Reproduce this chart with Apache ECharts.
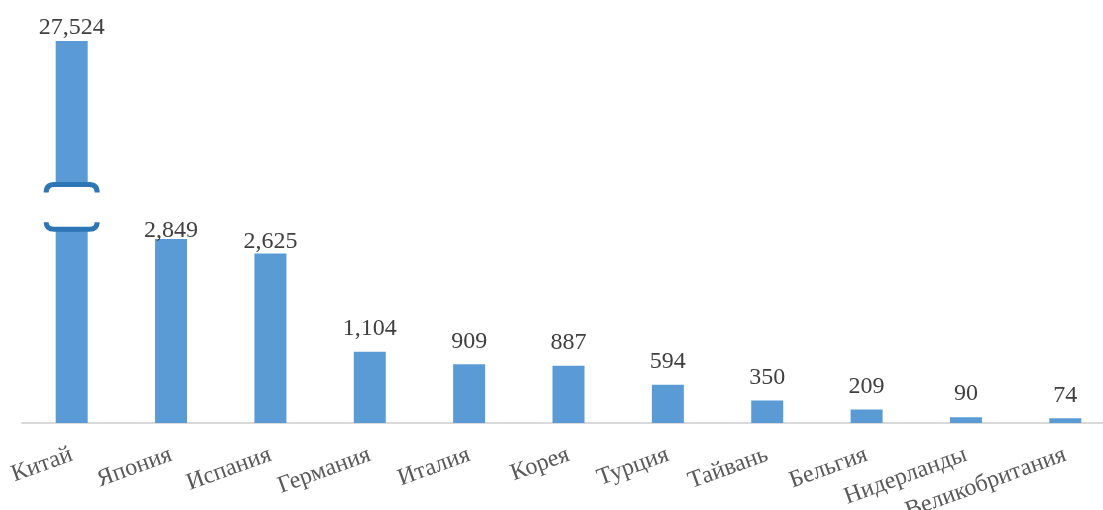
<!DOCTYPE html>
<html>
<head>
<meta charset="utf-8">
<script src="https://cdn.jsdelivr.net/npm/echarts@6/dist/echarts.min.js"></script>
<style>
html,body{margin:0;padding:0;background:#fff;}
#chart{width:1103px;height:510px;}
</style>
</head>
<body>
<div id="chart"></div>
<script>
const categories = ['Китай','Япония','Испания','Германия','Италия','Корея','Турция','Тайвань','Бельгия','Нидерланды','Великобритания'];
const values = [27524, 2849, 2625, 1104, 909, 887, 594, 350, 209, 90, 74];
// axis break range (data units)
const breakStart = 3000;
const breakEnd = 25300;

const labelShift = {0: 10, 1: 15, 2: 11};
const barData = values.map((v, i) => ({
  value: v,
  label: labelShift[i] ? { offset: [0, labelShift[i]] } : undefined
}));

const chart = echarts.init(document.getElementById('chart'));
chart.setOption({
  animation: false,
  backgroundColor: '#ffffff',
  grid: { left: 22, right: -12, top: 41, bottom: 87, containLabel: false, outerBoundsMode: 'none' },
  xAxis: {
    type: 'category',
    data: categories,
    axisLine: { lineStyle: { color: '#D9D9D9', width: 2 } },
    axisTick: { show: false },
    axisLabel: {
      rotate: 20,
      interval: 0,
      margin: 31,
      fontFamily: 'Liberation Serif',
      fontSize: 24,
      color: '#595959'
    }
  },
  yAxis: {
    type: 'value',
    min: 0,
    max: 27524,
    breaks: [{ start: breakStart, end: breakEnd, gap: 692 }],
    breakArea: { show: false },
    axisLine: { show: false },
    axisTick: { show: false },
    axisLabel: { show: false },
    splitLine: { show: false }
  },
  series: [
    {
      type: 'bar',
      data: barData,
      barWidth: 32,
      itemStyle: { color: '#5B9BD5' },
      label: {
        show: true,
        position: 'top',
        distance: 11,
        fontFamily: 'Liberation Serif',
        fontSize: 24,
        color: '#404040',
        formatter: p => p.value.toLocaleString('en-US')
      }
    },
    {
      type: 'custom',
      z: 5,
      data: [[0, breakStart, breakEnd]],
      encode: { x: 0, y: [1, 2] },
      renderItem: function (params, api) {
        const lo = api.coord([api.value(0), api.value(1)]);
        const hi = api.coord([api.value(0), api.value(2)]);
        const cx = lo[0];
        const yb = lo[1];
        const yt = hi[1];
        const hw = 25.5;
        const r = 8;
        const x0 = cx - hw, x1 = cx + hw;
        const stroke = { stroke: '#2E75B6', lineWidth: 5, fill: null };
        return {
          type: 'group',
          children: [
            { type: 'rect', shape: { x: cx - 17, y: yt, width: 34, height: yb - yt }, style: { fill: '#ffffff' } },
            { type: 'path', shape: { pathData: `M${x0},${yt + 8} Q${x0},${yt} ${x0 + r},${yt} L${x1 - r},${yt} Q${x1},${yt} ${x1},${yt + 8}` }, style: stroke },
            { type: 'path', shape: { pathData: `M${x0},${yb - 7} Q${x0},${yb} ${x0 + r},${yb} L${x1 - r},${yb} Q${x1},${yb} ${x1},${yb - 7}` }, style: stroke }
          ]
        };
      }
    }
  ]
});
</script>
</body>
</html>
